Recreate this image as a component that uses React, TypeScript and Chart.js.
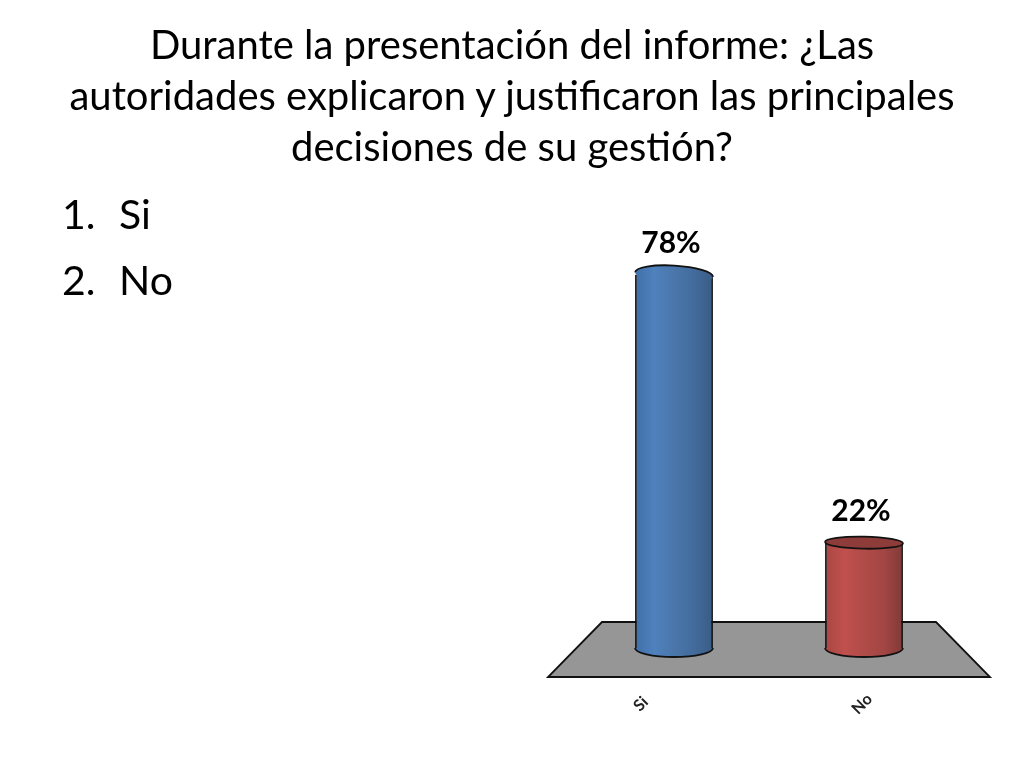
import { useEffect, useRef } from "react"
import { Chart, registerables } from "chart.js"

Chart.register(...registerables)

const titleLines = [
  "Durante la presentación del informe: ¿Las",
  "autoridades explicaron y justificaron las principales",
  "decisiones de su gestión?",
]
const categories = ["Si", "No"]
const values = [78, 22]
const valueLabels = ["78%", "22%"]

const blueStops = ["#3f70a9", "#4f81bd", "#4a76ab", "#436c9c", "#3a5c85"]
const redStops = ["#a94744", "#c0504d", "#b04b48", "#a34644", "#7f3a38"]
const barStops = [blueStops, redStops]
const capFills = ["", "#8e3c3a"]
const capTilts = [0.06, 0.02]
const tickShifts = [-33, -2]

const FONT = "Lato, Carlito, sans-serif"
const BAR_PERCENT = 0.41

// Relleno tipo cilindro, de izquierda a derecha de la barra
function barGradient(context: any) {
  const chart = context.chart
  const i = context.dataIndex
  const stops = barStops[i]
  // En la primera pasada todavía no hay área de dibujo
  if (!chart.chartArea || !chart.scales.x) return stops[1]
  const center = chart.scales.x.getPixelForTick(i)
  const half = (chart.chartArea.width / categories.length) * BAR_PERCENT / 2
  const gradient = chart.ctx.createLinearGradient(center - half, 0, center + half, 0)
  stops.forEach((color: string, k: number) => gradient.addColorStop(k / (stops.length - 1), color))
  return gradient
}

const floorPlugin = {
  id: "floor",
  beforeDatasetsDraw(chart: any) {
    const { ctx, chartArea } = chart
    const { left, right, bottom } = chartArea
    ctx.save()
    ctx.beginPath()
    ctx.moveTo(left + 23, bottom - 26)
    ctx.lineTo(right - 23, bottom - 26)
    ctx.lineTo(right + 31, bottom + 29)
    ctx.lineTo(left - 31, bottom + 29)
    ctx.closePath()
    ctx.fillStyle = "#969696"
    ctx.fill()
    ctx.lineWidth = 1.8
    ctx.strokeStyle = "#111111"
    ctx.stroke()

    // Base redondeada de cada cilindro
    chart.getDatasetMeta(0).data.forEach((bar: any, i: number) => {
      ctx.beginPath()
      ctx.ellipse(bar.x, bar.base, bar.width / 2, 9, 0, 0, Math.PI)
      ctx.fillStyle = barGradient({ chart, dataIndex: i })
      ctx.fill()
      ctx.stroke()
    })
    ctx.restore()
  },
  afterDatasetsDraw(chart: any) {
    const { ctx } = chart
    ctx.save()
    ctx.lineWidth = 1.8
    ctx.strokeStyle = "#111111"
    chart.getDatasetMeta(0).data.forEach((bar: any, i: number) => {
      // Tapa superior: abierta en la azul, elipse completa en la roja
      const open = !capFills[i]
      ctx.beginPath()
      ctx.ellipse(bar.x, bar.y, bar.width / 2, open ? 9 : 6, capTilts[i], 0, Math.PI * 2)
      ctx.fillStyle = open ? barGradient({ chart, dataIndex: i }) : capFills[i]
      ctx.fill()
      ctx.beginPath()
      ctx.ellipse(bar.x, bar.y, bar.width / 2, open ? 9 : 6, capTilts[i], open ? Math.PI : 0, Math.PI * 2)
      ctx.stroke()

      ctx.fillStyle = "#000000"
      ctx.textAlign = "center"
      ctx.textBaseline = "middle"
      ctx.font = `bold 30px ${FONT}`
      ctx.fillText(valueLabels[i], bar.x - 3, bar.y - 31)

      // Etiqueta de categoría girada
      ctx.save()
      ctx.translate(bar.x + tickShifts[i], bar.base + 56)
      ctx.rotate(-Math.PI / 4)
      ctx.font = `bold 16px ${FONT}`
      ctx.fillStyle = "#222222"
      ctx.fillText(categories[i], 0, 0)
      ctx.restore()
    })
    ctx.restore()
  },
}

export default function App() {
  const chartRef = useRef<HTMLCanvasElement>(null)

  useEffect(() => {
    if (!chartRef.current) return
    const chart = new Chart(chartRef.current, {
      type: "bar",
      data: {
        labels: categories,
        datasets: [
          {
            data: values,
            backgroundColor: barGradient,
            borderColor: "#111111",
            borderWidth: { left: 1.8, right: 1.8, top: 0, bottom: 0 },
            barPercentage: BAR_PERCENT,
            categoryPercentage: 1,
          },
        ],
      },
      options: {
        animation: false,
        responsive: false,
        layout: { padding: { left: 579, right: 65, top: 265, bottom: 120 } },
        scales: {
          x: { display: false },
          y: { display: false, min: 0, max: 80 },
        },
        plugins: {
          legend: { display: false },
          tooltip: { enabled: false },
        },
      },
      plugins: [floorPlugin],
    })
    return () => chart.destroy()
  }, [])

  return (
    <div style={{ position: "absolute", left: 0, top: 0, width: 1024, height: 768, background: "#fff", overflow: "hidden", fontFamily: FONT, color: "#000" }}>
      <canvas ref={chartRef} width={1024} height={768} style={{ position: "absolute", left: 0, top: 0 }} />
      <div style={{ position: "absolute", left: 0, top: 19, width: 1024, textAlign: "center", fontSize: 40, lineHeight: "51px" }}>
        {titleLines.map((line) => (
          <div key={line}>{line}</div>
        ))}
      </div>
      {categories.map((item, i) => (
        <div key={item} style={{ position: "absolute", left: 62, top: 190 + i * 66, fontSize: 41, lineHeight: "48px", whiteSpace: "pre" }}>
          <span style={{ display: "inline-block", width: 57 }}>{i + 1}.</span>
          {item}
        </div>
      ))}
    </div>
  )
}
